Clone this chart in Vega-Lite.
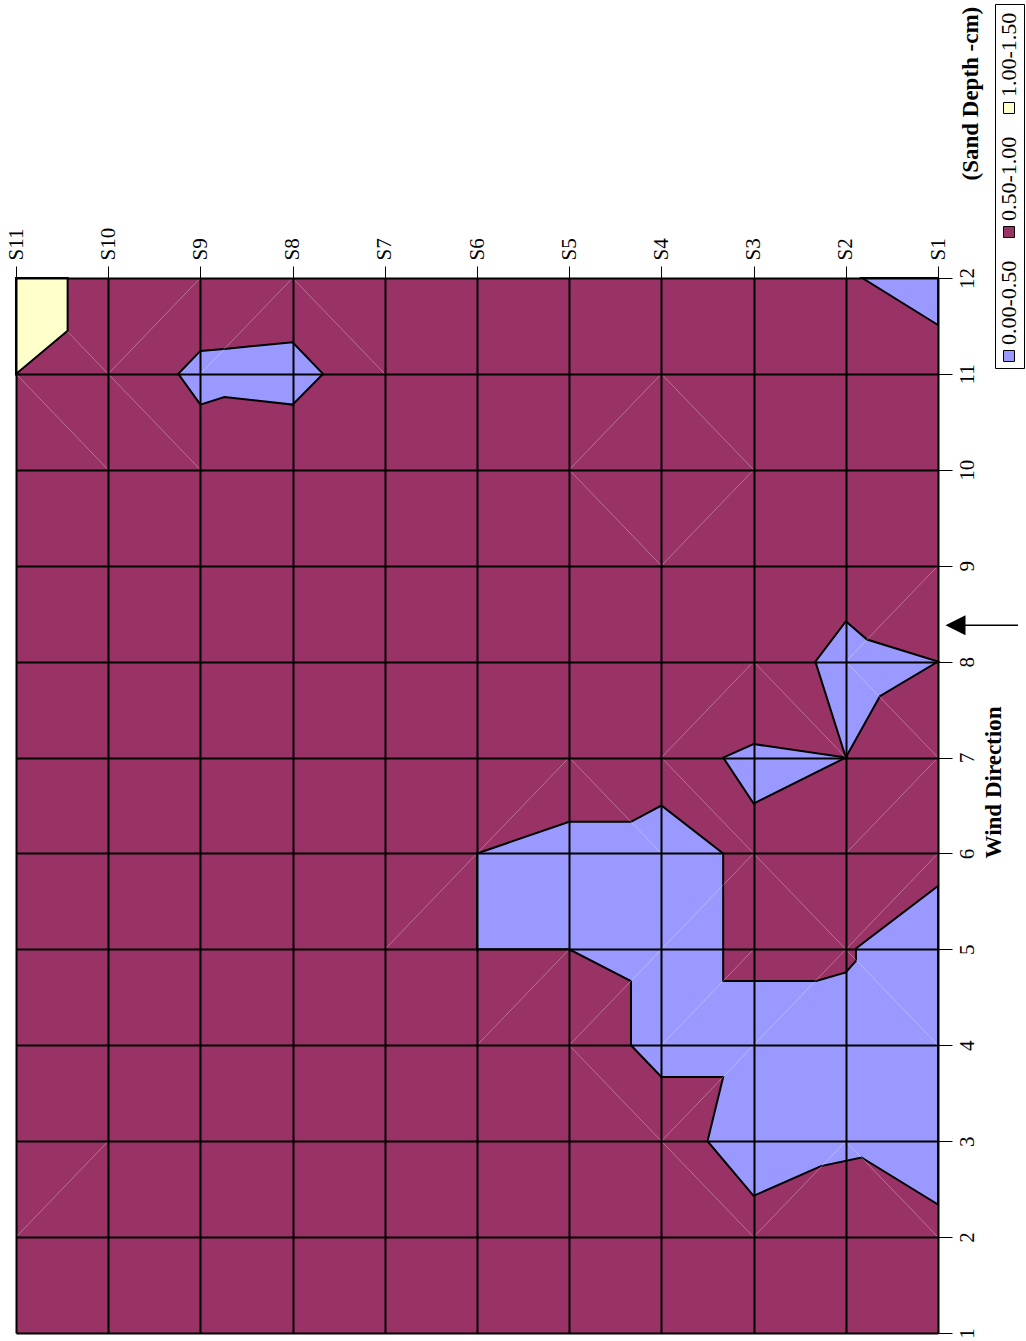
{
  "$schema": "https://vega.github.io/schema/vega-lite/v6.json",
  "width": 922,
  "height": 1055,
  "autosize": "none",
  "padding": {"left": 16, "top": 278, "right": 88, "bottom": 8},
  "background": "white",
  "config": {"view": {"stroke": null}, "font": "Liberation Serif"},
  "datasets": {
    "surface": [{"s1": 1, "s2": 11, "c1": 1, "c2": 12, "cls": "0.50-1.00"}],
    "regions": [
      {"id": "Y1", "cls": "1.00-1.50", "i": 1, "s": 11, "c": 12},
      {"id": "Y1", "cls": "1.00-1.50", "i": 2, "s": 10.44, "c": 12},
      {"id": "Y1", "cls": "1.00-1.50", "i": 3, "s": 10.44, "c": 11.45},
      {"id": "Y1", "cls": "1.00-1.50", "i": 4, "s": 11, "c": 11},
      {"id": "B1", "cls": "0.00-0.50", "i": 1, "s": 1.82, "c": 12},
      {"id": "B1", "cls": "0.00-0.50", "i": 2, "s": 1, "c": 12},
      {"id": "B1", "cls": "0.00-0.50", "i": 3, "s": 1, "c": 11.51},
      {"id": "B2", "cls": "0.00-0.50", "i": 1, "s": 9, "c": 11.24},
      {"id": "B2", "cls": "0.00-0.50", "i": 2, "s": 8.74, "c": 11.26},
      {"id": "B2", "cls": "0.00-0.50", "i": 3, "s": 8, "c": 11.33},
      {"id": "B2", "cls": "0.00-0.50", "i": 4, "s": 7.67, "c": 11},
      {"id": "B2", "cls": "0.00-0.50", "i": 5, "s": 8, "c": 10.68},
      {"id": "B2", "cls": "0.00-0.50", "i": 6, "s": 8.74, "c": 10.76},
      {"id": "B2", "cls": "0.00-0.50", "i": 7, "s": 9, "c": 10.68},
      {"id": "B2", "cls": "0.00-0.50", "i": 8, "s": 9.24, "c": 11},
      {"id": "B3", "cls": "0.00-0.50", "i": 1, "s": 2, "c": 8.42},
      {"id": "B3", "cls": "0.00-0.50", "i": 2, "s": 1.77, "c": 8.23},
      {"id": "B3", "cls": "0.00-0.50", "i": 3, "s": 1, "c": 8},
      {"id": "B3", "cls": "0.00-0.50", "i": 4, "s": 1.63, "c": 7.64},
      {"id": "B3", "cls": "0.00-0.50", "i": 5, "s": 2, "c": 7},
      {"id": "B3", "cls": "0.00-0.50", "i": 6, "s": 2.33, "c": 8},
      {"id": "B4", "cls": "0.00-0.50", "i": 1, "s": 3.33, "c": 7},
      {"id": "B4", "cls": "0.00-0.50", "i": 2, "s": 3, "c": 7.14},
      {"id": "B4", "cls": "0.00-0.50", "i": 3, "s": 2, "c": 7},
      {"id": "B4", "cls": "0.00-0.50", "i": 4, "s": 3, "c": 6.52},
      {"id": "B5", "cls": "0.00-0.50", "i": 1, "s": 6, "c": 6},
      {"id": "B5", "cls": "0.00-0.50", "i": 2, "s": 5, "c": 6.33},
      {"id": "B5", "cls": "0.00-0.50", "i": 3, "s": 4.33, "c": 6.33},
      {"id": "B5", "cls": "0.00-0.50", "i": 4, "s": 4, "c": 6.5},
      {"id": "B5", "cls": "0.00-0.50", "i": 5, "s": 3.33, "c": 6},
      {"id": "B5", "cls": "0.00-0.50", "i": 6, "s": 3.33, "c": 4.67},
      {"id": "B5", "cls": "0.00-0.50", "i": 7, "s": 2.32, "c": 4.67},
      {"id": "B5", "cls": "0.00-0.50", "i": 8, "s": 2, "c": 4.76},
      {"id": "B5", "cls": "0.00-0.50", "i": 9, "s": 1.89, "c": 4.88},
      {"id": "B5", "cls": "0.00-0.50", "i": 10, "s": 1.89, "c": 5.01},
      {"id": "B5", "cls": "0.00-0.50", "i": 11, "s": 1, "c": 5.66},
      {"id": "B5", "cls": "0.00-0.50", "i": 12, "s": 1, "c": 2.34},
      {"id": "B5", "cls": "0.00-0.50", "i": 13, "s": 1.83, "c": 2.83},
      {"id": "B5", "cls": "0.00-0.50", "i": 14, "s": 2.27, "c": 2.74},
      {"id": "B5", "cls": "0.00-0.50", "i": 15, "s": 3, "c": 2.43},
      {"id": "B5", "cls": "0.00-0.50", "i": 16, "s": 3.5, "c": 3},
      {"id": "B5", "cls": "0.00-0.50", "i": 17, "s": 3.33, "c": 3.67},
      {"id": "B5", "cls": "0.00-0.50", "i": 18, "s": 4, "c": 3.67},
      {"id": "B5", "cls": "0.00-0.50", "i": 19, "s": 4.33, "c": 4},
      {"id": "B5", "cls": "0.00-0.50", "i": 20, "s": 4.33, "c": 4.67},
      {"id": "B5", "cls": "0.00-0.50", "i": 21, "s": 5, "c": 5},
      {"id": "B5", "cls": "0.00-0.50", "i": 22, "s": 6, "c": 5}
    ],
    "seams": [
      {"sa": 9, "ca": 12, "sb": 10, "cb": 11},
      {"sa": 8, "ca": 12, "sb": 9, "cb": 11},
      {"sa": 8, "ca": 12, "sb": 7, "cb": 11},
      {"sa": 10.44, "ca": 11.44, "sb": 10, "cb": 11},
      {"sa": 11, "ca": 11, "sb": 10, "cb": 10},
      {"sa": 10, "ca": 11, "sb": 9, "cb": 10},
      {"sa": 5, "ca": 10, "sb": 4, "cb": 11},
      {"sa": 5, "ca": 10, "sb": 4, "cb": 9},
      {"sa": 4, "ca": 9, "sb": 3, "cb": 10},
      {"sa": 4, "ca": 11, "sb": 3, "cb": 10},
      {"sa": 4, "ca": 7, "sb": 3, "cb": 8},
      {"sa": 3, "ca": 8, "sb": 2, "cb": 7},
      {"sa": 2, "ca": 8, "sb": 1, "cb": 7},
      {"sa": 1, "ca": 9, "sb": 2, "cb": 8},
      {"sa": 4, "ca": 7, "sb": 3, "cb": 6},
      {"sa": 3, "ca": 6, "sb": 2, "cb": 5},
      {"sa": 4, "ca": 5, "sb": 3, "cb": 6},
      {"sa": 2, "ca": 6, "sb": 1, "cb": 7},
      {"sa": 6, "ca": 6, "sb": 5, "cb": 7},
      {"sa": 5, "ca": 7, "sb": 4, "cb": 6},
      {"sa": 7, "ca": 5, "sb": 6, "cb": 6},
      {"sa": 6, "ca": 4, "sb": 5, "cb": 5},
      {"sa": 5, "ca": 4, "sb": 4, "cb": 5},
      {"sa": 4, "ca": 4, "sb": 3, "cb": 5},
      {"sa": 3, "ca": 4, "sb": 2, "cb": 5},
      {"sa": 2, "ca": 5, "sb": 1, "cb": 4},
      {"sa": 2, "ca": 5, "sb": 1, "cb": 6},
      {"sa": 4, "ca": 3, "sb": 3, "cb": 4},
      {"sa": 5, "ca": 4, "sb": 4, "cb": 3},
      {"sa": 4, "ca": 3, "sb": 3, "cb": 2},
      {"sa": 3, "ca": 2, "sb": 2, "cb": 3},
      {"sa": 2, "ca": 3, "sb": 1, "cb": 2},
      {"sa": 11, "ca": 2, "sb": 10, "cb": 3}
    ],
    "wind": [{"tip": 0.81, "base": 0.74, "tail": 0.132, "c": 8.38}]
  },
  "layer": [
    {
      "data": {"name": "surface"},
      "mark": {"type": "rect", "stroke": null},
      "encoding": {
        "x": {
          "field": "s1", "type": "quantitative",
          "scale": {"domain": [1, 11], "reverse": true, "nice": false, "zero": false},
          "axis": {
            "orient": "top", "values": [1, 2, 3, 4, 5, 6, 7, 8, 9, 10, 11],
            "labelExpr": "'S' + datum.value",
            "labelAngle": 270, "labelAlign": "left", "labelBaseline": "middle",
            "labelPadding": 6, "labelFlush": false, "labelOverlap": false, "labelBound": false,
            "labelFontSize": 21, "labelColor": "black", "labelFont": "Liberation Serif",
            "tickSize": 12, "tickColor": "black", "tickWidth": 1,
            "domain": false, "grid": true, "gridColor": "black", "gridWidth": 2, "gridOpacity": 1,
            "zindex": 1,
            "title": "(Sand Depth -cm)", "titleAngle": 270, "titleAlign": "left", "titleBaseline": "alphabetic",
            "titleX": 961, "titleY": -98, "titleFontSize": 23, "titleFontWeight": "bold",
            "titleColor": "black", "titleFont": "Liberation Serif"
          }
        },
        "x2": {"field": "s2"},
        "y": {
          "field": "c1", "type": "quantitative",
          "scale": {"domain": [1, 12], "nice": false, "zero": false},
          "axis": {
            "orient": "right", "values": [1, 2, 3, 4, 5, 6, 7, 8, 9, 10, 11, 12], "format": "d",
            "labelAngle": 270, "labelAlign": "center", "labelBaseline": "top",
            "labelPadding": 4, "labelFlush": false, "labelOverlap": false, "labelBound": false,
            "labelFontSize": 21, "labelColor": "black", "labelFont": "Liberation Serif",
            "tickSize": 14, "tickColor": "black", "tickWidth": 1,
            "domain": false, "grid": true, "gridColor": "black", "gridWidth": 2, "gridOpacity": 1,
            "zindex": 1,
            "title": "Wind Direction", "titleAngle": 270, "titleAlign": "center", "titleBaseline": "alphabetic",
            "titleX": 62, "titleY": 504, "titleFontSize": 23, "titleFontWeight": "bold",
            "titleColor": "black", "titleFont": "Liberation Serif"
          }
        },
        "y2": {"field": "c2"},
        "fill": {
          "field": "cls", "type": "nominal",
          "scale": {"domain": ["1.00-1.50", "0.50-1.00", "0.00-0.50"], "range": ["#FFFFCC", "#993366", "#9999FF"]},
          "legend": {
            "title": null, "orient": "none", "legendX": 979, "legendY": -274,
            "direction": "vertical", "symbolType": "square", "symbolSize": 121,
            "symbolStrokeColor": "black", "symbolStrokeWidth": 1, "symbolOpacity": 1,
            "labelFont": "Liberation Serif", "labelFontSize": 22, "labelColor": "black",
            "labelLimit": 0, "strokeColor": "black", "padding": 4, "rowPadding": 16,
            "encode": {
              "symbols": {"update": {"x": {"value": 10}, "y": {"value": 100}, "stroke": {"value": "black"}, "strokeWidth": {"value": 1}}},
              "labels": {"update": {"x": {"value": 10}, "y": {"value": 100}, "angle": {"value": 270}, "align": {"value": "left"}, "baseline": {"value": "middle"}, "dx": {"value": 11}}}
            }
          }
        }
      }
    },
    {
      "data": {"name": "regions"},
      "mark": {"type": "line", "interpolate": "linear-closed", "stroke": "black", "strokeWidth": 2, "strokeJoin": "miter"},
      "encoding": {
        "x": {"field": "s", "type": "quantitative", "scale": {"domain": [1, 11], "reverse": true, "nice": false, "zero": false}},
        "y": {"field": "c", "type": "quantitative", "scale": {"domain": [1, 12], "nice": false, "zero": false}},
        "order": {"field": "i", "type": "quantitative"},
        "detail": {"field": "id"},
        "fill": {"field": "cls", "type": "nominal", "legend": null}
      }
    },
    {
      "data": {"name": "seams"},
      "mark": {"type": "rule", "stroke": "white", "strokeOpacity": 0.3, "strokeWidth": 1},
      "encoding": {
        "x": {"field": "sa", "type": "quantitative"},
        "x2": {"field": "sb"},
        "y": {"field": "ca", "type": "quantitative"},
        "y2": {"field": "cb"}
      }
    },
    {
      "data": {"name": "wind"},
      "mark": {"type": "rule", "stroke": "black", "strokeWidth": 1.5},
      "encoding": {
        "x": {"field": "base", "type": "quantitative"},
        "x2": {"field": "tail"},
        "y": {"field": "c", "type": "quantitative"}
      }
    },
    {
      "data": {"name": "wind"},
      "mark": {"type": "point", "shape": "M-1,0L1,-1L1,1Z", "size": 400, "filled": true, "fill": "black", "stroke": null, "opacity": 1},
      "encoding": {
        "x": {"field": "tip", "type": "quantitative"},
        "y": {"field": "c", "type": "quantitative"}
      }
    }
  ]
}
